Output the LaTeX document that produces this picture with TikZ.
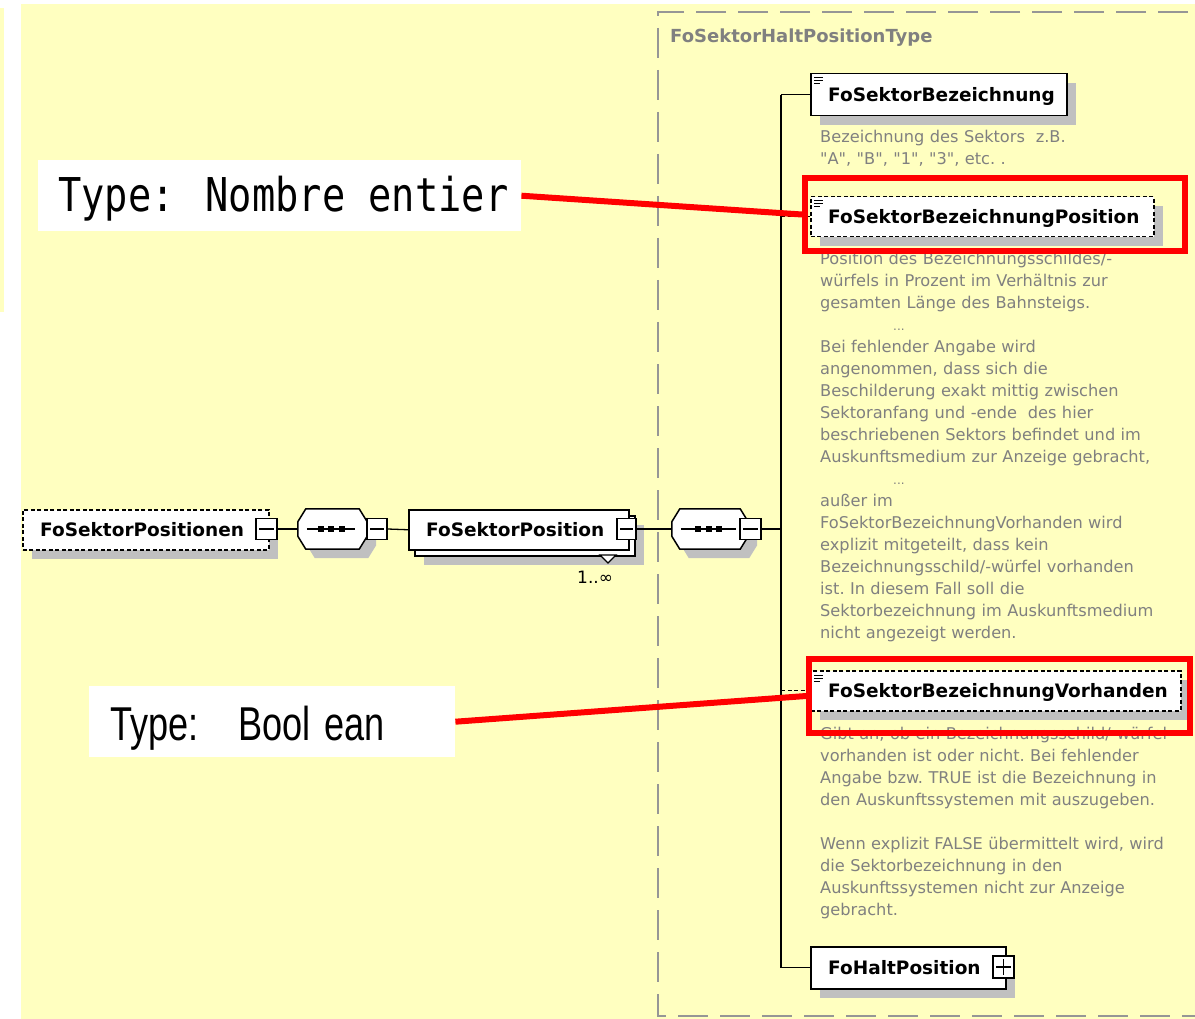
\documentclass[tikz,border=0pt]{standalone}
\usepackage{fontspec}
\setmainfont[Ligatures=TeXOff]{DejaVu Sans}
\newfontfamily\calloutmono[FakeStretch=0.83]{DejaVu Sans Mono}
\newfontfamily\calloutsans[FakeStretch=0.76]{Liberation Sans}
\usetikzlibrary{shadows,calc}

\definecolor{panel}{RGB}{255,255,192}
\definecolor{shadowgrey}{RGB}{192,192,192}
\definecolor{framegrey}{RGB}{150,150,150}
\definecolor{docgrey}{RGB}{128,128,128}
\definecolor{markred}{RGB}{255,0,0}

\tikzset{
  elembox/.style={draw=black, line width=1.5pt, fill=white, rectangle, inner sep=0pt,
    minimum height=40pt, anchor=north west},
  dropgrey/.style={general shadow={fill=shadowgrey, shadow xshift=9pt, shadow yshift=-9pt}},
  optional/.style={dash pattern=on 4pt off 2.5pt},
  elemname/.style={font=\fontsize{18.5pt}{20pt}\selectfont\bfseries, anchor=base west, inner sep=0pt},
  ctrlbox/.style={draw=black, line width=1.3pt, fill=white, rectangle, inner sep=0pt,
    minimum width=20pt, minimum height=21pt},
  wire/.style={draw=black, line width=1.3pt},
  doctext/.style={font=\fontsize{16.2pt}{22pt}\selectfont\frenchspacing, text=docgrey, anchor=north west,
    inner sep=0pt, align=left, text width=372pt},
  hilite/.style={draw=markred, line width=6pt, rectangle, inner sep=0pt, anchor=north west},
  pointer/.style={draw=markred, line width=6pt},
  callout/.style={fill=white, inner sep=0pt, anchor=north west, minimum height=71pt},
  seqhull/.style={inner sep=0pt, minimum height=40pt},
}

% minus / plus toggles on the expand boxes
\newcommand\xsdminus[1]{\draw[line width=1.2pt] ([xshift=4pt]#1.west) -- ([xshift=-4pt]#1.east);}
\newcommand\xsdplus[1]{\xsdminus{#1}\draw[line width=1.2pt] ([yshift=-4pt]#1.north) -- ([yshift=4pt]#1.south);}
% documentation marker in the top-left corner of an element
\newcommand\docicon[1]{\draw[line width=1pt]
  ([shift={(4pt,-5pt)}]#1.north west) -- ++(9pt,0pt)
  ([shift={(4pt,-8pt)}]#1.north west) -- ++(9pt,0pt)
  ([shift={(4pt,-11pt)}]#1.north west) -- ++(6pt,0pt);}
% sequence compositor outline
\newcommand\octpath[1]{([xshift=8pt]#1.north west) -- ([xshift=-8pt]#1.north east)
  -- ([yshift=-13pt]#1.north east) -- ([yshift=13pt]#1.south east)
  -- ([xshift=-8pt]#1.south east) -- ([xshift=8pt]#1.south west)
  -- ([yshift=13pt]#1.south west) -- ([yshift=-13pt]#1.north west) -- cycle}
\newcommand\seqmarks[1]{%
  \draw[line width=1.3pt] ([xshift=9pt]#1.west) coordinate (#1-a) -- ([xshift=-12pt]#1.east) coordinate (#1-b);
  \path ($(#1-a)!0.5!(#1-b)$) coordinate (#1-m);
  \fill ([xshift=-10.5pt]#1-m) +(-3pt,-3pt) rectangle +(3pt,3pt);
  \fill (#1-m) +(-3pt,-3pt) rectangle +(3pt,3pt);
  \fill ([xshift=10.5pt]#1-m) +(-3pt,-3pt) rectangle +(3pt,3pt);}

\begin{document}
\begin{tikzpicture}[x=1pt,y=-1pt]
\useasboundingbox (0,0) rectangle (1195,1019);
\clip (0,0) rectangle (1195,1019);
\fill[white] (0,0) rectangle (1195,1019);
\fill[panel] (0,8) rectangle (4,312);
\fill[panel] (21,4) rectangle (1195,1019);

% complex type frame
\draw[framegrey, line width=1.5pt, dash pattern=on 30pt off 12pt]
  (1230,12) -- (658,12) -- (658,1016) -- (1230,1016);
\node[font=\fontsize{18pt}{20pt}\selectfont\bfseries, text=docgrey, anchor=base west, inner sep=0pt]
  (type-name) at (670,43) {FoSektorHaltPositionType};

% documentation texts
\node[doctext] (doc-bez) at (820,130) {Bezeichnung des Sektors\ \ z.B.\\"A", "B", "1", "3", etc. .};
\node[doctext] (doc-pos) at (820,252) {Position des Bezeichnungsschildes/-\\
würfels in Prozent im Verhältnis zur\\
gesamten Länge des Bahnsteigs.\\
\hspace*{73pt}{\fontsize{12pt}{22pt}\selectfont...}\\
Bei fehlender Angabe wird\\
angenommen, dass sich die\\
Beschilderung exakt mittig zwischen\\
Sektoranfang und -ende\ \ des hier\\
beschriebenen Sektors befindet und im\\
Auskunftsmedium zur Anzeige gebracht,\\
\hspace*{73pt}{\fontsize{12pt}{22pt}\selectfont...}\\
außer im\\
FoSektorBezeichnungVorhanden wird\\
explizit mitgeteilt, dass kein\\
Bezeichnungsschild/-würfel vorhanden\\
ist. In diesem Fall soll die\\
Sektorbezeichnung im Auskunftsmedium\\
nicht angezeigt werden.};
\node[doctext] (doc-vor) at (820,727) {Gibt an, ob ein Bezeichnungsschild/-würfel\\
vorhanden ist oder nicht. Bei fehlender\\
Angabe bzw. TRUE ist die Bezeichnung in\\
den Auskunftssystemen mit auszugeben.\\
\mbox{}\\
Wenn explizit FALSE übermittelt wird, wird\\
die Sektorbezeichnung in den\\
Auskunftssystemen nicht zur Anzeige\\
gebracht.};

% root element
\node[elembox, dropgrey, optional, minimum width=246pt] (root) at (22,509) {};
\node[elemname] (root-name) at ([shift={(18pt,-6.8pt)}]root.west) {FoSektorPositionen};

% first sequence
\node[seqhull, minimum width=69pt] (seq1) at (332.5,529) {};
\fill[shadowgrey, transform canvas={shift={(9pt,-9pt)}}] \octpath{seq1};
\draw[line width=1.5pt, fill=white] \octpath{seq1};
\seqmarks{seq1}

% repeated element
\node[elembox, dropgrey, minimum width=220pt] (rep-back) at (414,515) {};
\node[elembox, minimum width=220pt] (rep) at (408,509) {};
\node[elemname] (rep-name) at ([shift={(18pt,-6.8pt)}]rep.west) {FoSektorPosition};
\draw[line width=1.2pt, fill=white] (600,555) coordinate (tri-l) -- (616,555) coordinate (tri-r)
  -- (608,563) coordinate (tri-b) -- cycle;
\node[font=\fontsize{17pt}{18pt}\selectfont, anchor=base west, inner sep=0pt] (occurs) at (577,583) {1..∞};

% second sequence
\node[seqhull, minimum width=76pt] (seq2) at (710,529) {};
\fill[shadowgrey, transform canvas={shift={(9pt,-9pt)}}] \octpath{seq2};
\draw[line width=1.5pt, fill=white] \octpath{seq2};
\seqmarks{seq2}

% children of the sequence
\node[elembox, dropgrey, minimum width=256pt, minimum height=42pt] (bez) at (810,73) {};
\node[elemname] (bez-name) at ([shift={(18pt,-6.8pt)}]bez.west) {FoSektorBezeichnung};
\docicon{bez}
\node[elembox, dropgrey, optional, minimum width=343pt] (pos) at (810,196) {};
\node[elemname] (pos-name) at ([shift={(18pt,-6.8pt)}]pos.west) {FoSektorBezeichnungPosition};
\docicon{pos}
\node[elembox, dropgrey, optional, minimum width=370pt] (vor) at (810,670) {};
\node[elemname] (vor-name) at ([shift={(18pt,-6.8pt)}]vor.west) {FoSektorBezeichnungVorhanden};
\docicon{vor}
\node[elembox, dropgrey, minimum width=195pt, minimum height=42pt] (halt) at (810,946) {};
\node[elemname] (halt-name) at ([shift={(18pt,-6.8pt)}]halt.west) {FoHaltPosition};

% expand / collapse toggles
\node[ctrlbox, minimum width=21pt] (root-ctl) at (266.5,529) {}; \xsdminus{root-ctl}
\node[ctrlbox] (seq1-ctl) at (377,529) {}; \xsdminus{seq1-ctl}
\node[ctrlbox, minimum width=19pt] (rep-ctl) at (626.5,529) {}; \xsdminus{rep-ctl}
\node[ctrlbox, minimum width=21pt] (seq2-ctl) at (750.5,529) {}; \xsdminus{seq2-ctl}
\node[ctrlbox, minimum width=21pt, minimum height=22pt] (halt-ctl) at (1003.5,967) {}; \xsdplus{halt-ctl}

% connectors
\coordinate (bus) at (781,529);
\draw[wire] (root-ctl.east) -- (seq1.west);
\draw[wire] (seq1-ctl.east) -- (rep.west);
\draw[wire] (rep-ctl.east) -- (seq2.west);
\draw[wire] (seq2-ctl.east) -- (bus);
\draw[wire] (bus |- bez.west) -- (bus |- halt.west);
\draw[wire] (bus |- bez.west) -- (bez.west);
\draw[wire, optional] (bus |- pos.west) -- (pos.west);
\draw[wire, optional] (bus |- vor.west) -- (vor.west);
\draw[wire] (bus |- halt.west) -- (halt.west);

% highlights and notes
\node[hilite, minimum width=380pt, minimum height=73pt] (hl-pos) at (802,175) {};
\node[hilite, minimum width=381pt, minimum height=74pt] (hl-vor) at (806,656) {};
\node[callout, minimum width=483pt] (note-pos) at (38,160) {};
\node[font=\calloutmono\fontsize{46.6pt}{50pt}\selectfont, anchor=base west, inner sep=0pt]
  (note-pos-text) at (58,212) {Type: Nombre entier};
\node[callout, minimum width=366pt] (note-vor) at (89,686) {};
\node[font=\calloutsans\fontsize{47.5pt}{50pt}\selectfont, anchor=base west, inner sep=0pt]
  (note-vor-text) at (110,740) {Type:\hspace{40pt}Bool\kern14pt ean};
\draw[pointer] (note-pos.east) -- (hl-pos.west);
\draw[pointer] (note-vor.east) -- (hl-vor.west);
\end{tikzpicture}
\end{document}
